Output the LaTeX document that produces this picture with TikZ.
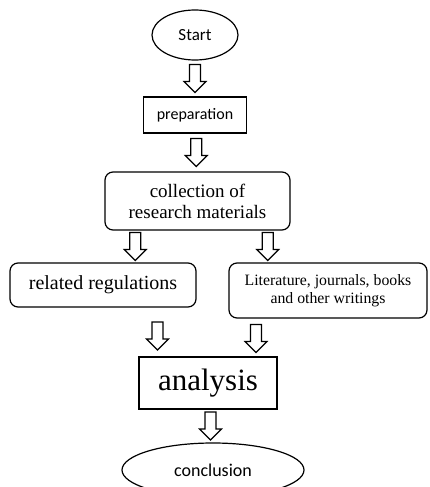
\documentclass[tikz,border=0pt]{standalone}
\usepackage{fontspec}
\setmainfont{Liberation Serif}
\newfontfamily\flowsans{Carlito}
\usetikzlibrary{shapes.geometric, calc}

\begin{document}
\begin{tikzpicture}[
  x=1pt, y=1pt,
  terminal/.style={draw, ellipse, line width=1.2pt, inner sep=0pt, font=\flowsans\fontsize{17}{19}\selectfont},
  plainbox/.style={draw, rectangle, line width=1.2pt, inner sep=0pt, align=center},
  roundbox/.style={draw, rectangle, rounded corners=8pt, line width=1.2pt, inner sep=0pt, align=center},
  hollow/.pic={\draw[line width=1.2pt, line join=miter] (-5.5,14) -- (-5.5,-3) -- (-11,-3) -- (0,-14)
      -- (11,-3) -- (5.5,-3) -- (5.5,14) -- cycle;}
]
  \useasboundingbox (0,0) rectangle (429,-487);

  %% MAIN COLUMN
  \node[terminal, minimum width=86pt, minimum height=50pt] (start) at (195,-35) {Start};
  \node[plainbox, minimum width=103pt, minimum height=36pt, font=\flowsans\fontsize{16}{18}\selectfont]
    (prep) at (195,-115) {preparation};
  \node[roundbox, minimum width=185pt, minimum height=58pt, font=\fontsize{19}{21}\selectfont]
    (coll) at (197.5,-201) {collection of\\research materials};

  %% TWO SOURCES
  \node[roundbox, minimum width=186pt, minimum height=44pt, font=\fontsize{20}{22}\selectfont]
    (rel) at (103,-285) {related regulations};
  \node[roundbox, minimum width=198pt, minimum height=55pt, font=\fontsize{15.8}{17.5}\selectfont]
    (lit) at (328,-290.5) {Literature, journals, books\\and other writings};

  %% ANALYSIS AND END
  \node[plainbox, minimum width=138pt, minimum height=52pt, font=\fontsize{31}{33}\selectfont]
    (ana) at (208,-383) {analysis};
  \node[terminal, minimum width=182pt, minimum height=54pt, font=\flowsans\fontsize{18}{20}\selectfont]
    (concl) at (213,-470) {conclusion};

  %% hollow arrows between the boxes
  \pic at ($(start.south)!0.5!(prep.north)$) {hollow};
  \pic at ($(prep.south)!0.5!(coll.north)$) {hollow};
  \pic at ($(coll.south)!0.5!(rel.north) + (-15,0)$) {hollow};
  \pic at ($(coll.south)!0.5!(lit.north) + (5,0)$) {hollow};
  \pic at ($(rel.south)!0.5!(ana.north) + (2,-4)$) {hollow};
  \pic at ($(lit.south)!0.5!(ana.north) + (-12,-1)$) {hollow};
  \pic at ($(ana.south)!0.5!(concl.north)$) {hollow};

\end{tikzpicture}
\end{document}
